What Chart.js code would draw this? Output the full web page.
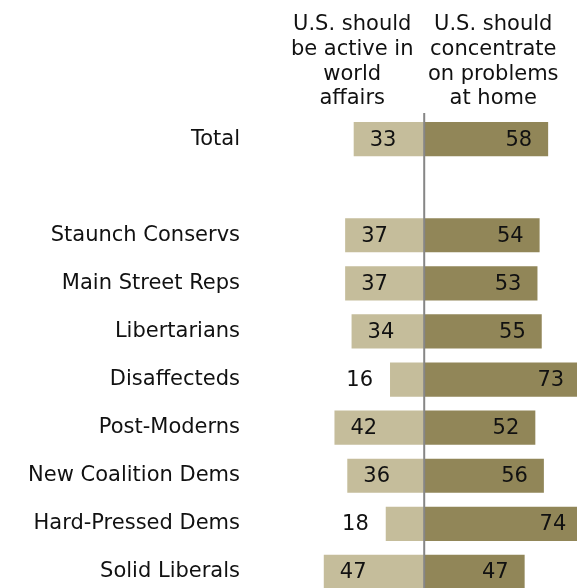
<!DOCTYPE html>
<html>
<head>
<meta charset="utf-8">
<script src="https://cdn.jsdelivr.net/npm/chart.js@4"></script>
<style>
  html, body { margin: 0; padding: 0; background: #fff; overflow: hidden; }
  #wrap { width: 577px; height: 596px; position: relative; }
</style>
</head>
<body>
<div id="wrap"><canvas id="chart"></canvas></div>
<script>
// ==================== DATA ====================
const categories = [
    "Total", "",
    "Staunch Conservs", "Main Street Reps", "Libertarians", "Disaffecteds",
    "Post-Moderns", "New Coalition Dems", "Hard-Pressed Dems", "Solid Liberals"
];
const activeWorld = [33, null, 37, 37, 34, 16, 42, 36, 18, 47];
const problemsHome = [58, null, 54, 53, 55, 73, 52, 56, 74, 47];
const headerLeft = ["U.S. should", "be active in", "world", "affairs"];
const headerRight = ["U.S. should", "concentrate", "on problems", "at home"];

const FONT = "'DejaVu Sans', Verdana, sans-serif";
const TEXT = "#111111";

// headers, center line, value labels
const overlay = {
    id: "overlay",
    afterDatasetsDraw(chart) {
        const { ctx, chartArea, scales } = chart;
        const zero = scales.x.getPixelForValue(0);
        ctx.save();

        // vertical line at 0
        ctx.strokeStyle = "#868686";
        ctx.lineWidth = 2;
        ctx.beginPath();
        ctx.moveTo(zero, chartArea.top - 2);
        ctx.lineTo(zero, chartArea.bottom);
        ctx.stroke();

        ctx.fillStyle = TEXT;
        ctx.font = `21px ${FONT}`;
        ctx.textBaseline = "middle";

        // column headers
        ctx.textAlign = "center";
        headerLeft.forEach((t, i) => ctx.fillText(t, zero - 72, 25 + i * 24.6));
        headerRight.forEach((t, i) => ctx.fillText(t, zero + 69, 25 + i * 24.6));

        // value labels
        chart.getDatasetMeta(0).data.forEach((bar, i) => {
            const v = activeWorld[i];
            if (v == null) return;
            if (v < 20) {
                ctx.textAlign = "right";
                ctx.fillText(v, bar.x - 17, bar.y + 1);
            } else {
                ctx.textAlign = "left";
                ctx.fillText(v, bar.x + 16, bar.y + 1);
            }
        });
        chart.getDatasetMeta(1).data.forEach((bar, i) => {
            const v = problemsHome[i];
            if (v == null) return;
            ctx.textAlign = "right";
            ctx.fillText(v, bar.x - 16, bar.y + 1);
        });
        ctx.restore();
    }
};

new Chart(document.getElementById("chart").getContext("2d"), {
    type: "bar",
    data: {
        labels: categories,
        datasets: [{
            label: "U.S. should be active in world affairs",
            data: activeWorld.map(v => v == null ? null : -v),
            backgroundColor: "#c5bd9b",
            categoryPercentage: 1,
            barPercentage: 0.71,
        }, {
            label: "U.S. should concentrate on problems at home",
            data: problemsHome,
            backgroundColor: "#918658",
            categoryPercentage: 1,
            barPercentage: 0.71,
        }],
    },
    options: {
        indexAxis: "y",
        responsive: true,
        maintainAspectRatio: false,
        animation: false,
        layout: { padding: { top: 115, bottom: 0, left: 0, right: 0 } },
        plugins: {
            legend: { display: false },
            tooltip: { enabled: false }
        },
        scales: {
            x: {
                stacked: true,
                display: false,
                min: -60,
                max: 71.5
            },
            y: {
                stacked: true,
                border: { display: false },
                grid: { display: false, drawTicks: false },
                ticks: {
                    color: TEXT,
                    font: { family: FONT, size: 21 },
                    padding: 56
                },
                afterFit: scale => {
                    scale.width = 296;
                    scale.paddingTop = 0;
                    scale.paddingBottom = 0;
                }
            }
        }
    },
    plugins: [overlay]
});
</script>
</body>
</html>
